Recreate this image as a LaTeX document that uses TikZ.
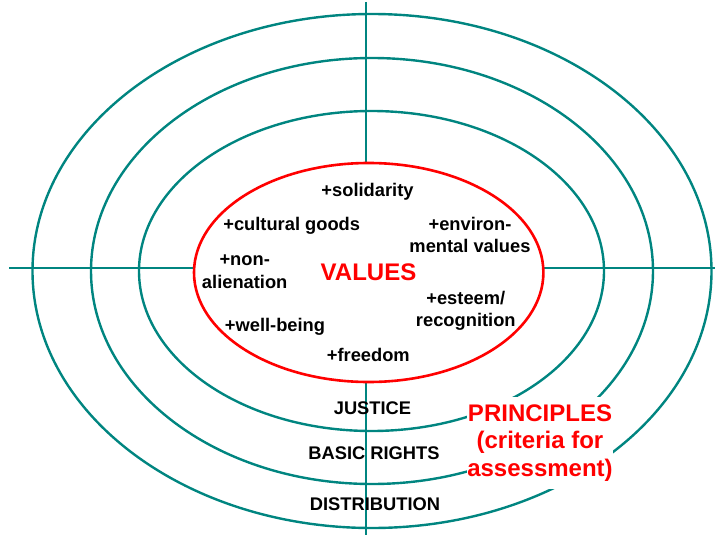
\documentclass[tikz,border=0pt]{standalone}
\usepackage{fontspec}
\setmainfont{Liberation Sans}
\usepackage{tikz}
\definecolor{ringteal}{RGB}{0,133,128}
\definecolor{valred}{RGB}{255,0,0}

\begin{document}
\begin{tikzpicture}[x=1pt,y=-1pt,
  ring/.style={draw=ringteal,line width=2.4pt},
  axisline/.style={draw=ringteal,line width=1.3pt},
  item/.style={font=\fontsize{18.3}{22.5}\selectfont\bfseries,align=center,anchor=base,inner sep=0pt},
  bigred/.style={font=\fontsize{24}{27.5}\selectfont\bfseries,text=valred,align=center,inner sep=0pt}]
\useasboundingbox (0,0) rectangle (715,535);
% cross hairs
\coordinate (top) at (366,2);
\coordinate (bottom) at (366,535);
\coordinate (left) at (9,268);
\coordinate (right) at (715,268);
\draw[axisline] (top) -- (bottom);
\draw[axisline] (left) -- (right);
% the three rings
\draw[ring] (372,271) ellipse [x radius=339.5, y radius=257];
\draw[ring] (372,271) ellipse [x radius=281, y radius=213];
\draw[ring] (371.5,271) ellipse [x radius=232.5, y radius=160];
% values in the middle (two-line items sit on their last line)
\draw[draw=valred,fill=white,line width=2.6pt] (368.7,272.5) ellipse [x radius=174.7, y radius=109.5];
\node[bigred,anchor=base] (values) at (368.5,280) {VALUES};
\node[item] (solid) at (367.5,196.7) {+solidarity};
\node[item] (cult) at (291.7,230.5) {+cultural goods};
\node[item] (env) at (470,252.7) {+environ-\\mental values};
\node[item] (nonal) at (244.7,288.3) {+non-\\alienation};
\node[item] (esteem) at (465.8,326.7) {+esteem/\\recognition};
\node[item] (well) at (275,331.7) {+well-being};
\node[item] (free) at (368.3,361.7) {+freedom};
% ring labels
\node[item] (just) at (372.5,414.3) {JUSTICE};
\node[item] (rights) at (374,459) {BASIC RIGHTS};
\node[item] (dist) at (375,510) {DISTRIBUTION};
\node[bigred,fill=white,minimum width=146pt,minimum height=92pt] (princ) at (540,443)
  {PRINCIPLES\\(criteria for\\assessment)};
\end{tikzpicture}
\end{document}
